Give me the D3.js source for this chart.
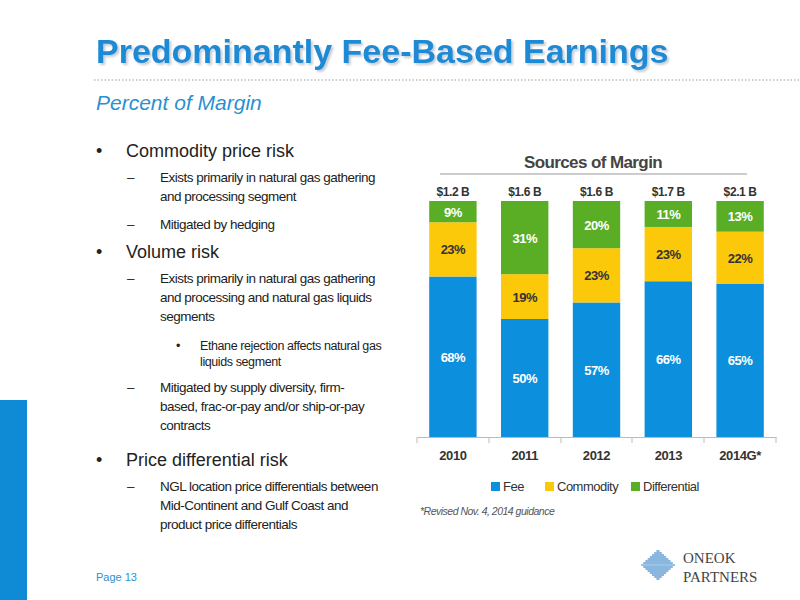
<!DOCTYPE html>
<html><head><meta charset="utf-8">
<script src="https://cdn.jsdelivr.net/npm/d3@7"></script>
<style>body{margin:0;background:#fff}svg{display:block}</style>
</head><body>
<svg id="c" width="800" height="600">
<defs><filter id="sh" x="-5%" y="-20%" width="110%" height="150%"><feDropShadow dx="2" dy="2" stdDeviation="1" flood-color="#8899aa" flood-opacity="0.5"/></filter></defs>
</svg>
<script>
const categories = ["2010","2011","2012","2013","2014G*"];
const totals = ["$1.2 B","$1.6 B","$1.6 B","$1.7 B","$2.1 B"];
const fee = [68,50,57,66,65];
const commodity = [23,19,23,23,22];
const differential = [9,31,20,11,13];
const seriesNames = ["Fee","Commodity","Differential"];
const colors = ["#0c8fdc","#fcc80a","#5aae25"];

const svg = d3.select("#c");
const F = "Liberation Sans, Arial, sans-serif";
const FN = "Liberation Sans Narrow, Roboto Condensed, Liberation Sans, Arial, sans-serif";

svg.append("text").attr("x",96).attr("y",63).attr("font-family",F).attr("font-weight","bold")
  .attr("font-size",34).attr("fill","#1a8ad4").attr("filter","url(#sh)").text("Predominantly Fee-Based Earnings");
svg.append("line").attr("x1",94).attr("x2",800).attr("y1",80).attr("y2",80)
  .attr("stroke","#999").attr("stroke-dasharray","1.5,2").attr("stroke-width",1.2);
svg.append("text").attr("x",96).attr("y",110).attr("font-family",F).attr("font-style","italic")
  .attr("font-size",21).attr("fill","#2a90d0").text("Percent of Margin");
svg.append("rect").attr("x",0).attr("y",400).attr("width",27).attr("height",200).attr("fill","#0f8bd6");
svg.append("text").attr("x",96).attr("y",581).attr("font-family",F).attr("font-size",11).attr("fill","#2a90d0").text("Page 13");

const bullets = [
 [0,157,["Commodity price risk"]],
 [1,182,["Exists primarily in natural gas gathering","and processing segment"]],
 [1,229,["Mitigated by hedging"]],
 [0,258,["Volume risk"]],
 [1,283,["Exists primarily in natural gas gathering","and processing and natural gas liquids","segments"]],
 [2,350,["Ethane rejection affects natural gas","liquids segment"]],
 [1,392,["Mitigated by supply diversity, firm-","based, frac-or-pay and/or ship-or-pay","contracts"]],
 [0,466,["Price differential risk"]],
 [1,491,["NGL location price differentials between","Mid-Continent and Gulf Coast and","product price differentials"]]
];
bullets.forEach(([lvl,y,lines])=>{
  const cfg=[{bx:96,tx:126,fs:18,lh:22,b:"•",ls:0},{bx:127,tx:160,fs:13.5,lh:19,b:"–",ls:-0.5},{bx:176,tx:200,fs:12.5,lh:16,b:"•",ls:-0.4}][lvl];
  svg.append("text").attr("x",cfg.bx).attr("y",y).attr("font-family",F).attr("font-size",cfg.fs).attr("fill","#222").text(cfg.b);
  lines.forEach((l,i)=>svg.append("text").attr("x",cfg.tx).attr("y",y+i*cfg.lh).attr("font-family",F)
    .attr("font-size",cfg.fs).attr("fill","#222").attr("letter-spacing",cfg.ls).text(l));
});

const x = d3.scaleBand().domain(categories).range([417,776]).paddingInner(0.34).paddingOuter(0.17);
const y = d3.scaleLinear().domain([0,100]).range([437,201]);
const data = categories.map((c,i)=>({cat:c,Fee:fee[i],Commodity:commodity[i],Differential:differential[i]}));
const stack = d3.stack().keys(seriesNames)(data);
const g = svg.append("g");
stack.forEach((s,si)=>{
  g.selectAll(null).data(s).enter().append("rect")
   .attr("x",d=>x(d.data.cat)).attr("width",x.bandwidth())
   .attr("y",d=>y(d[1])).attr("height",d=>y(d[0])-y(d[1])).attr("fill",colors[si]);
  g.selectAll(null).data(s).enter().append("text")
   .attr("x",d=>x(d.data.cat)+x.bandwidth()/2).attr("y",d=>(y(d[0])+y(d[1]))/2+5)
   .attr("text-anchor","middle").attr("font-family",F).attr("font-weight","bold").attr("font-size",13)
   .attr("letter-spacing",-0.5).attr("fill",si==1?"#333":"#fff").text(d=>(d[1]-d[0])+"%");
});
g.selectAll(null).data(categories).enter().append("text")
  .attr("x",c=>x(c)+x.bandwidth()/2).attr("y",196).attr("text-anchor","middle")
  .attr("font-family",F).attr("font-weight","bold").attr("font-size",12).attr("letter-spacing",-0.4).attr("fill","#333")
  .text((c,i)=>totals[i]);
const ax = svg.append("g").attr("transform","translate(0,437)").call(d3.axisBottom(x).tickSize(0).tickPadding(14));
ax.select(".domain").attr("stroke","#bbb");
ax.selectAll("text").attr("font-family",F).attr("font-weight","bold").attr("font-size",13).attr("letter-spacing",-0.4).attr("fill","#333");
[417,489,561,632,704,776].forEach(t=>svg.append("line").attr("x1",t).attr("x2",t).attr("y1",437).attr("y2",443).attr("stroke","#bbb"));

svg.append("text").attr("x",593).attr("y",168).attr("text-anchor","middle").attr("font-family",F)
  .attr("font-weight","bold").attr("font-size",17).attr("letter-spacing",-0.6).attr("fill","#444").text("Sources of Margin");
svg.append("line").attr("x1",440).attr("x2",747).attr("y1",174).attr("y2",174).attr("stroke","#999");

const lx=[491,545,631];
seriesNames.forEach((n,i)=>{
  svg.append("rect").attr("x",lx[i]).attr("y",482).attr("width",9).attr("height",9).attr("fill",colors[i]);
  svg.append("text").attr("x",lx[i]+12).attr("y",491).attr("font-family",F).attr("font-size",13).attr("letter-spacing",-0.5).attr("fill","#333").text(n);
});
svg.append("text").attr("x",420).attr("y",515).attr("font-family",F).attr("font-style","italic")
  .attr("font-size",10.5).attr("letter-spacing",-0.5).attr("fill","#555").text("*Revised Nov. 4, 2014 guidance");

const lg=svg.append("g").attr("transform","translate(658,565)");
for(let i=-7;i<=7;i++){const w=17-Math.abs(i)*2.2;lg.append("line").attr("x1",-w).attr("x2",w).attr("y1",i*2).attr("y2",i*2).attr("stroke","#3a86c8").attr("stroke-width",1.2);}
svg.append("text").attr("x",683).attr("y",563).attr("font-family","Liberation Serif, serif").attr("font-size",15).attr("fill","#444").text("ONEOK");
svg.append("text").attr("x",683).attr("y",582).attr("font-family","Liberation Serif, serif").attr("font-size",15).attr("fill","#444").text("PARTNERS");
</script></body></html>
